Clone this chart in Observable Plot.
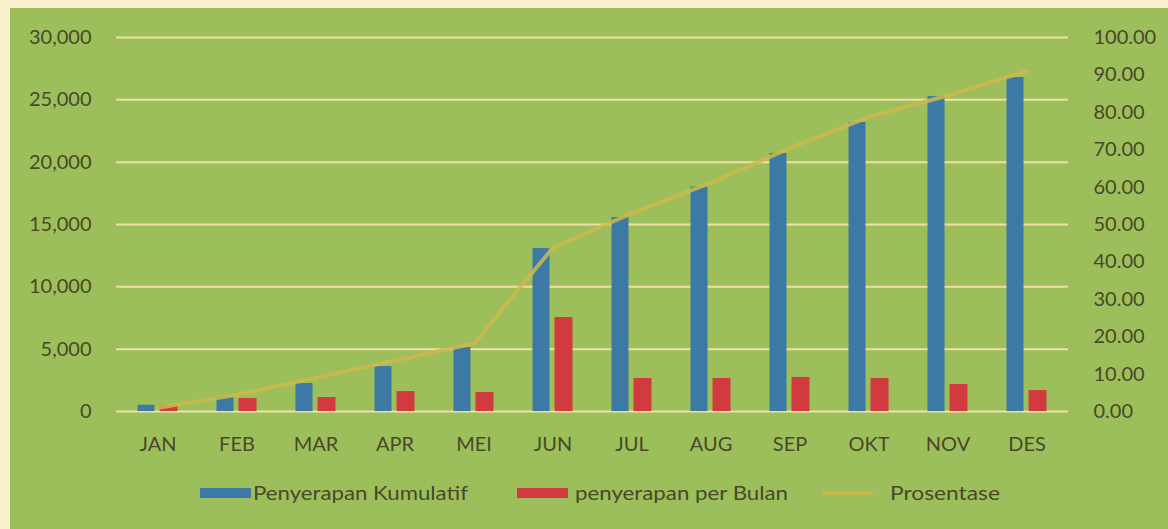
<!DOCTYPE html>
<html>
<head>
<meta charset="utf-8">
<script src="https://cdn.jsdelivr.net/npm/d3@7"></script>
<script src="https://cdn.jsdelivr.net/npm/@observablehq/plot@0.6"></script>
<style>
  html, body { margin: 0; padding: 0; background: #f8f0cc; width: 1168px; height: 529px; overflow: hidden; }
  #panel { position: absolute; left: 10px; top: 8px; width: 1158px; height: 521px; background: #9dbf5b; }
  #panel svg { display: block; }
</style>
</head>
<body>
<div id="panel"></div>
<script>
const months = ["JAN","FEB","MAR","APR","MEI","JUN","JUL","AUG","SEP","OKT","NOV","DES"];
const kumulatif = [500, 1120, 2250, 3600, 5130, 13070, 15560, 18000, 20700, 23180, 25260, 26790];
const perBulan = [480, 1040, 1120, 1600, 1520, 7540, 2650, 2650, 2730, 2650, 2165, 1680];
const prosentase = [1.0, 4.5, 9.0, 13.6, 18.2, 43.8, 53.0, 61.2, 70.4, 78.8, 84.5, 91.0];
const leftTicks = [0, 5000, 10000, 15000, 20000, 25000, 30000];
const rightTicks = [0, 10, 20, 30, 40, 50, 60, 70, 80, 90, 100];
const seriesNames = ["Penyerapan Kumulatif", "penyerapan per Bulan", "Prosentase"];

const blue = "#3d79a5", red = "#d13b3f", lineCol = "#cdb94c", grid = "#f2dfa8", ink = "#4a4828";
const k = 300; // percent -> left-axis units (100% = 30,000)

const rows = months.map((m, i) => ({m, kum: kumulatif[i], bul: perBulan[i], pct: prosentase[i]}));

const chart = Plot.plot({
  width: 1158,
  height: 460,
  marginLeft: 106,
  marginRight: 100,
  marginTop: 29,
  marginBottom: 57,
  style: {background: "transparent", fontFamily: "Lato, sans-serif", fontSize: "20px", color: ink},
  x: {domain: months, padding: 0},
  y: {domain: [0, 30000]},
  marks: [
    Plot.ruleY(leftTicks, {stroke: grid, strokeWidth: 2}),
    Plot.axisX({tickSize: 0, tickPadding: 25, fontSize: 20, fill: ink, label: null}),
    Plot.axisY(leftTicks, {anchor: "left", tickSize: 0, tickPadding: 25, tickFormat: d3.format(","), fontSize: 20, fill: ink, label: null}),
    Plot.axisY(rightTicks.map(v => v * k), {anchor: "right", tickSize: 0, tickPadding: 25, tickFormat: d => (d / k).toFixed(2), fontSize: 20, fill: ink, label: null}),
    Plot.barY(rows, {x: "m", y: "kum", fill: blue, insetLeft: 19.5, insetRight: 42.5}),
    Plot.barY(rows, {x: "m", y: "bul", fill: red, insetLeft: 41.5, insetRight: 19.5}),
    Plot.lineY(rows, {x: "m", y: d => d.pct * k, stroke: lineCol, strokeWidth: 4, strokeOpacity: 0.85})
  ]
});
document.getElementById("panel").appendChild(chart);

// legend
const ns = "http://www.w3.org/2000/svg";
const leg = d3.create("svg").attr("width", 1158).attr("height", 61);
const items = [
  {name: seriesNames[0], type: "rect", color: blue, sx: 190, tx: 243, tw: 215},
  {name: seriesNames[1], type: "rect", color: red, sx: 507, tx: 565, tw: 213},
  {name: seriesNames[2], type: "line", color: lineCol, sx: 812, tx: 880, tw: 110}
];
const cy = 25;
for (const it of items) {
  if (it.type === "rect") {
    leg.append("rect").attr("x", it.sx).attr("y", cy - 5).attr("width", 51).attr("height", 10).attr("fill", it.color);
  } else {
    leg.append("line").attr("x1", it.sx).attr("x2", it.sx + 51).attr("y1", cy).attr("y2", cy)
      .attr("stroke", it.color).attr("stroke-width", 4).attr("stroke-opacity", 0.85);
  }
  leg.append("text").attr("x", it.tx).attr("y", cy).attr("dy", "0.35em")
    .attr("font-family", "Lato, sans-serif").attr("font-size", 20).attr("fill", ink)
    .attr("textLength", it.tw).attr("lengthAdjust", "spacingAndGlyphs")
    .text(it.name);
}
document.getElementById("panel").appendChild(leg.node());
</script>
</body>
</html>
